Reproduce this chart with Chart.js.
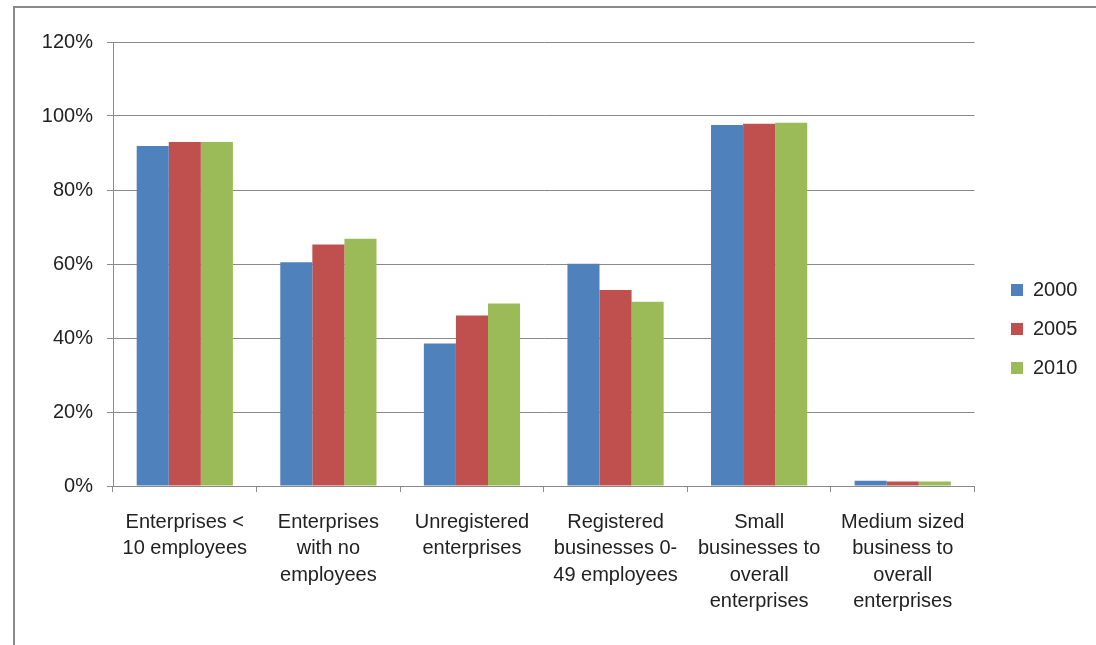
<!DOCTYPE html>
<html lang="en">
<head>
    <meta charset="UTF-8">
    <title>Enterprises by size</title>
    <script src="https://cdn.jsdelivr.net/npm/chart.js"></script>
    <style>
        body {
            margin: 0;
            background: #ffffff;
            overflow: hidden;
        }
        .frame {
            position: absolute;
            left: 13px;
            top: 6px;
            width: 1200px;
            height: 800px;
            border-left: 2px solid #8a8a8a;
            border-top: 2px solid #8a8a8a;
        }
        #chart {
            position: absolute;
            left: 0;
            top: 0;
        }
    </style>
</head>
<body>
    <div class="frame"></div>
    <canvas id="chart" width="1096" height="645"></canvas>

    <script>
        // categories (wrapped like the original axis labels)
        var categories = [
            ['Enterprises <', '10 employees'],
            ['Enterprises', 'with no', 'employees'],
            ['Unregistered', 'enterprises'],
            ['Registered', 'businesses 0-', '49 employees'],
            ['Small', 'businesses to', 'overall', 'enterprises'],
            ['Medium sized', 'business to', 'overall', 'enterprises']
        ];
        var years = ['2000', '2005', '2010'];

        // values in percent
        var values2000 = [91.9, 60.5, 38.5, 60.1, 97.6, 1.4];
        var values2005 = [93.0, 65.3, 46.1, 53.0, 97.9, 1.2];
        var values2010 = [93.0, 66.8, 49.3, 49.8, 98.2, 1.2];

        var yTicks = [0, 20, 40, 60, 80, 100, 120];

        var colors = ['#4f81bd', '#c0504d', '#9bbb59'];
        var font = "'Liberation Sans', Arial, sans-serif";

        // push the legend to where Excel put it
        var legendShift = {
            id: 'legendShift',
            afterLayout: function (chart) {
                var lg = chart.legend;
                var w = lg.width;
                lg.left = 992;
                lg.right = 992 + w;
            }
        };

        var ctx = document.getElementById('chart').getContext('2d');
        new Chart(ctx, {
            type: 'bar',
            data: {
                labels: categories,
                datasets: [
                    { label: years[0], data: values2000, backgroundColor: colors[0] },
                    { label: years[1], data: values2005, backgroundColor: colors[1] },
                    { label: years[2], data: values2010, backgroundColor: colors[2] }
                ]
            },
            options: {
                responsive: false,
                animation: false,
                devicePixelRatio: 1,
                layout: { padding: { top: 42, bottom: 29, left: 0, right: 26 } },
                datasets: {
                    bar: { categoryPercentage: 0.67, barPercentage: 1.0, borderWidth: 0 }
                },
                plugins: {
                    legend: {
                        position: 'right',
                        labels: {
                            color: '#222222',
                            font: { family: font, size: 20 },
                            boxWidth: 12,
                            boxHeight: 12,
                            padding: 19
                        }
                    },
                    tooltip: { enabled: false }
                },
                scales: {
                    x: {
                        afterFit: function (s) { s.height = 130; },
                        grid: {
                            offset: true,
                            drawOnChartArea: false,
                            drawTicks: true,
                            tickLength: 6,
                            color: '#8a8a8a'
                        },
                        border: { color: '#8a8a8a' },
                        ticks: {
                            color: '#222222',
                            font: { family: font, size: 20, lineHeight: 1.32 },
                            padding: 17,
                            maxRotation: 0,
                            autoSkip: false
                        }
                    },
                    y: {
                        min: 0,
                        max: yTicks[yTicks.length - 1],
                        afterFit: function (s) { s.width = 113; },
                        afterBuildTicks: function (s) {
                            s.ticks = yTicks.map(function (v) { return { value: v }; });
                        },
                        grid: {
                            color: '#8a8a8a',
                            tickLength: 6
                        },
                        border: { color: '#8a8a8a' },
                        ticks: {
                            color: '#222222',
                            font: { family: font, size: 20 },
                            padding: 14,
                            callback: function (v) { return v + '%'; }
                        }
                    }
                }
            },
            plugins: [legendShift]
        });
    </script>
</body>
</html>
